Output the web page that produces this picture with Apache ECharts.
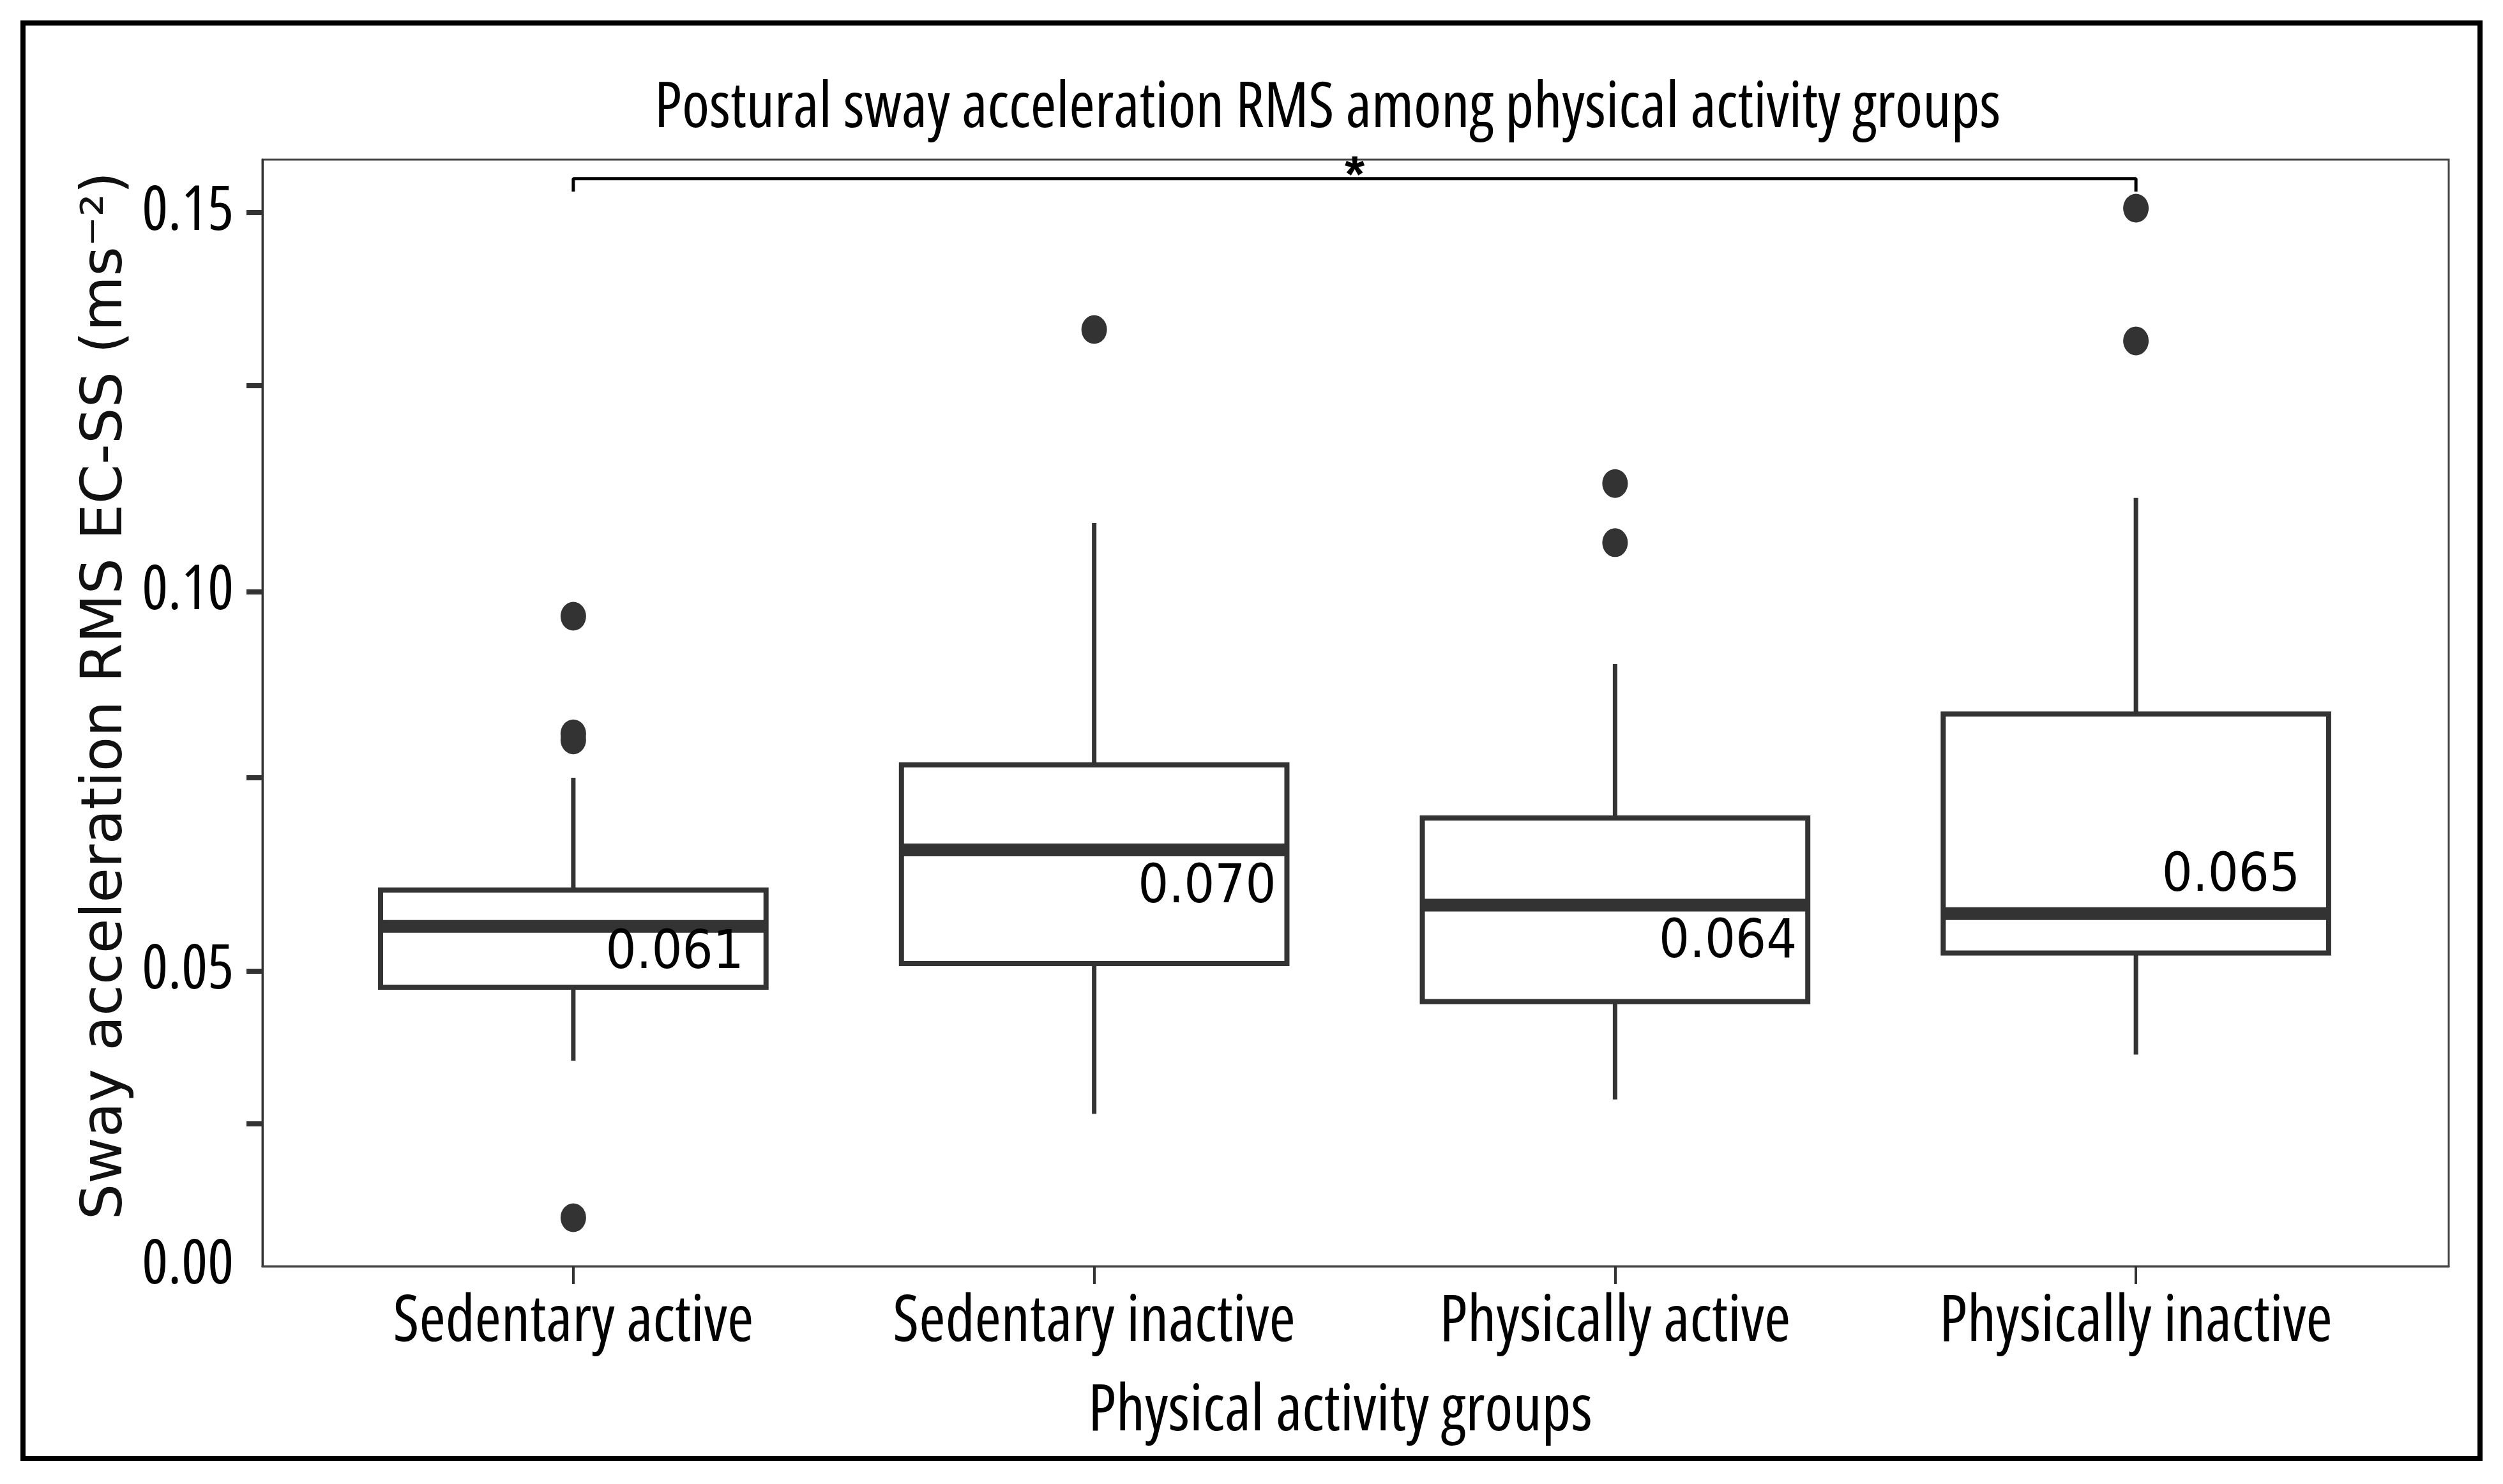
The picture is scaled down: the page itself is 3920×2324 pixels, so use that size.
<!DOCTYPE html>
<html><head><meta charset="utf-8">
<script src="https://cdn.jsdelivr.net/npm/echarts@6/dist/echarts.min.js"></script>
<style>html,body{margin:0;padding:0;background:#fff}#c{width:3920px;height:2324px}</style>
</head><body><div id="c"></div>
<script>
// ---------- data ----------
const categories = ['Sedentary active', 'Sedentary inactive', 'Physically active', 'Physically inactive'];
const whiskerLow  = [0.0382, 0.0312, 0.0331, 0.0390];
const q1          = [0.0479, 0.0510, 0.0460, 0.0524];
const medians     = [0.0559, 0.0660, 0.0587, 0.0576];
const q3          = [0.0607, 0.0772, 0.0702, 0.0839];
const whiskerHigh = [0.0755, 0.1091, 0.0905, 0.1124];
const meanLabels  = ['0.061', '0.070', '0.064', '0.065'];
const outlierGroup = [0, 0, 0, 0, 1, 2, 2, 3, 3];
const outlierValue = [0.0968, 0.0813, 0.0805, 0.0175, 0.1346, 0.1143, 0.1065, 0.1506, 0.1331];
const yTickLabelValues = [0.05, 0.10, 0.15];
const yTickValues = [0.0299, 0.05, 0.0755, 0.10, 0.1272, 0.15];
const yMin = 0.0111, yMax = 0.157;
const bracketFrom = 0, bracketTo = 3, bracketTop = 0.1545, bracketFoot = 0.1528, bracketText = '*';
const titleText = 'Postural sway acceleration RMS among physical activity groups';
const xName = 'Physical activity groups';
const yName = 'Sway acceleration RMS EC-SS (ms\u207B\u00B2)';

// ---------- styles ----------
const INK = '#333333';
const labelDx = [35, 17, 17, 45];      // px from box right edge
const labelDy = [43, 60, 60, -58];     // px from median line
const BOX_FRAC = 0.74;

// pick a condensed face if the system offers one, then size text to the reference widths
const mctx = document.createElement('canvas').getContext('2d');
function mw(font, s) { mctx.font = font; return mctx.measureText(s).width; }
let NFAM = '"Liberation Sans", Arial, sans-serif', NWEIGHT = 'normal';
for (const fam of ['"Noto Sans"', '"Open Sans"', 'Roboto']) {
  const wn = mw('normal normal 100px ' + fam, 'Sedentary active');
  const wc = mw('normal condensed 100px ' + fam, 'Sedentary active');
  if (wc > 300 && wc < 0.9 * wn) { NFAM = fam + ', "Liberation Sans", sans-serif'; NWEIGHT = 'condensed'; break; }
}
function fit(text, targetW, fam, weight) {
  return Math.round(100 * targetW / mw('normal ' + weight + ' 100px ' + fam, text));
}
const titleSize = Math.min(110, fit(titleText, 2118, NFAM, NWEIGHT));
const xLabSize = Math.min(110, fit('Sedentary active', 566, NFAM, NWEIGHT));
const xNameSize = Math.min(110, fit(xName, 790, NFAM, NWEIGHT));
const yLabSize = Math.min(105, fit('0.15', 143, NFAM, NWEIGHT));
const yNameSize = Math.min(92, fit(yName, 1642, '"DejaVu Sans", sans-serif', 'normal'));

const boxData = categories.map((c, i) => [i, whiskerLow[i], q1[i], medians[i], q3[i], whiskerHigh[i]]);
const outlierData = outlierGroup.map((g, i) => [g, outlierValue[i]]);

const chart = echarts.init(document.getElementById('c'), null, {renderer: 'canvas'});

const option = {
  backgroundColor: '#fff',
  animation: false,
  title: {
    text: titleText,
    left: 1020, top: Math.round(166 - titleSize / 2),
    textStyle: {fontFamily: NFAM, fontSize: titleSize, fontWeight: NWEIGHT, color: '#000'}
  },
  grid: [
    {left: 411, right: 85, top: 250, bottom: 341, show: true, borderColor: '#444', borderWidth: 3, backgroundColor: '#fff'},
    {left: 490, right: 167, top: 250, bottom: 341}
  ],
  xAxis: [
    {gridIndex: 0, type: 'value', min: 0, max: 1, show: true,
     axisLine: {show: true, lineStyle: {color: '#444', width: 3}},
     axisTick: {show: false}, axisLabel: {show: false}, splitLine: {show: false}},
    {gridIndex: 1, type: 'category', data: categories, boundaryGap: true,
     axisLine: {show: false},
     axisTick: {show: true, alignWithLabel: true, length: 28, lineStyle: {color: INK, width: 4}},
     axisLabel: {interval: 0, margin: Math.round(89 - xLabSize / 2), fontFamily: NFAM, fontWeight: NWEIGHT,
                 fontSize: xLabSize, color: '#000'},
     name: xName, nameLocation: 'middle', nameGap: Math.round(229 - xNameSize / 2),
     nameTextStyle: {fontFamily: NFAM, fontWeight: NWEIGHT, fontSize: xNameSize, color: '#000', padding: [0, 45, 0, 0]},
     splitLine: {show: false}}
  ],
  yAxis: [
    {gridIndex: 0, type: 'value', min: yMin, max: yMax,
     axisLine: {show: true, lineStyle: {color: INK, width: 3}},
     axisTick: {show: true, customValues: yTickValues, length: 25, lineStyle: {color: INK, width: 8}},
     axisLabel: {customValues: [yMin].concat(yTickLabelValues), margin: 45,
                 fontFamily: NFAM, fontWeight: NWEIGHT, fontSize: yLabSize, color: '#000',
                 formatter: v => (v === yMin ? '0.00' : v.toFixed(2))},
     splitLine: {show: false},
     name: yName, nameLocation: 'middle', nameRotate: 90, nameGap: 180,
     nameTextStyle: {fontFamily: '"DejaVu Sans", sans-serif', fontSize: yNameSize, color: '#111', padding: [0, 0, 0, 54]}},
    {gridIndex: 1, type: 'value', min: yMin, max: yMax, show: false}
  ],
  series: [
    {
      type: 'custom', xAxisIndex: 1, yAxisIndex: 1, data: boxData, z: 3,
      renderItem: function (params, api) {
        const i = api.value(0);
        const c = api.coord([i, api.value(3)]);
        const pLow = api.coord([i, api.value(1)]);
        const pQ1 = api.coord([i, api.value(2)]);
        const pQ3 = api.coord([i, api.value(4)]);
        const pHigh = api.coord([i, api.value(5)]);
        const bw = api.size([1, 0])[0] * BOX_FRAC;
        const x = c[0];
        return {type: 'group', children: [
          {type: 'line', shape: {x1: x, y1: pHigh[1], x2: x, y2: pQ3[1]}, style: {stroke: INK, lineWidth: 7}},
          {type: 'line', shape: {x1: x, y1: pQ1[1], x2: x, y2: pLow[1]}, style: {stroke: INK, lineWidth: 7}},
          {type: 'rect', shape: {x: x - bw / 2, y: pQ3[1], width: bw, height: pQ1[1] - pQ3[1]},
           style: {fill: '#fff', stroke: INK, lineWidth: 8}},
          {type: 'line', shape: {x1: x - bw / 2, y1: c[1], x2: x + bw / 2, y2: c[1]}, style: {stroke: INK, lineWidth: 20}},
          {type: 'text', style: {text: meanLabels[i], x: x + bw / 2 - labelDx[i], y: c[1] + labelDy[i],
            align: 'right', verticalAlign: 'middle', fill: '#000',
            font: '84px "DejaVu Sans Condensed", "DejaVu Sans", sans-serif'}}
        ]};
      }
    },
    {
      type: 'scatter', xAxisIndex: 1, yAxisIndex: 1, data: outlierData, z: 4,
      symbol: 'circle', symbolSize: [40, 45], itemStyle: {color: INK, opacity: 1}
    },
    {
      type: 'line', xAxisIndex: 1, yAxisIndex: 1, z: 5, symbol: 'none',
      data: [[bracketFrom, bracketFoot], [bracketFrom, bracketTop], [bracketTo, bracketTop], [bracketTo, bracketFoot]],
      lineStyle: {color: '#000', width: 5}
    }
  ]
};
chart.setOption(option);

const pA = chart.convertToPixel({seriesIndex: 2}, [bracketFrom, bracketTop]);
const pB = chart.convertToPixel({seriesIndex: 2}, [bracketTo, bracketTop]);
chart.setOption({
  graphic: [
    {type: 'rect', shape: {x: 36, y: 36, width: 3848, height: 2248}, style: {fill: 'none', stroke: '#000', lineWidth: 8}, z: 10},
    {type: 'text', x: (pA[0] + pB[0]) / 2, y: pA[1] + 38, z: 10,
     style: {text: bracketText, align: 'center', verticalAlign: 'bottom', fill: '#000',
             font: 'bold 80px "Liberation Sans", Arial, sans-serif'}}
  ]
});
</script></body></html>
